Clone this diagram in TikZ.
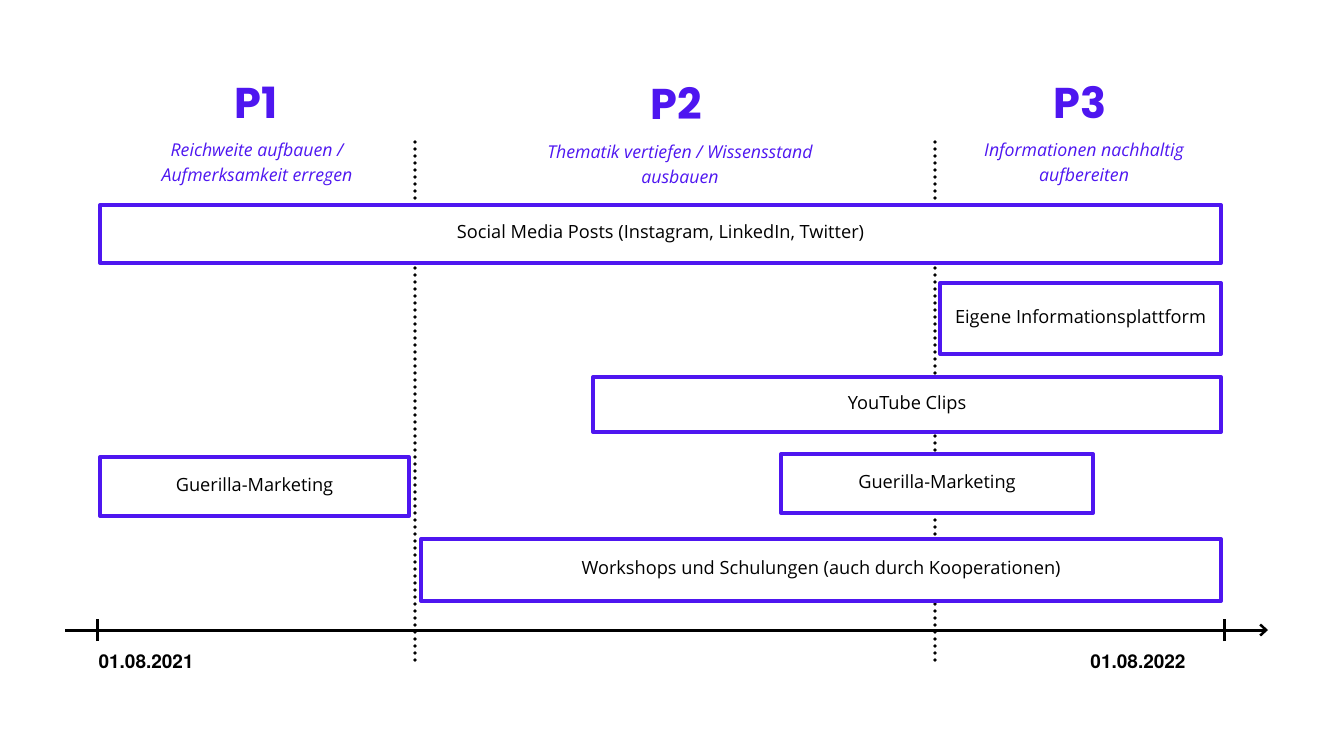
\documentclass[tikz,border=0pt]{standalone}
\usepackage{fontspec}
\setmainfont{Open Sans}
\newfontfamily\headfont{Poppins}
\newfontfamily\datefont{TeX Gyre Heros}
\usetikzlibrary{arrows.meta}
\definecolor{lila}{RGB}{78,22,240}
\tikzset{
	phase/.style={text=lila, font=\headfont\bfseries\fontsize{43}{46}\selectfont},
	ziel/.style={text=lila, align=center, font=\itshape\fontsize{17.7}{25}\selectfont},
	balken/.style={draw=lila, fill=white, line width=4pt, align=center, inner sep=0pt, font=\fontsize{18.2}{22}\selectfont},
	datum/.style={font=\datefont\bfseries\fontsize{19}{22}\selectfont},
	trenner/.style={line width=3.6pt, line cap=round, dash pattern=on 0pt off 7pt},
}
\begin{document}
\begin{tikzpicture}[x=1pt,y=-1pt,line join=round]
				\useasboundingbox (0,0) rectangle (1333,750);
				% Phasen
				\node[phase] (p1) at (256,103) {P1};
				\node[phase] (p2) at (676,103) {P2};
				\node[phase] (p3) at (1080,103) {P3};
				\node[ziel] (z1) at (257,164.5) {Reichweite aufbauen /\\Aufmerksamkeit erregen};
				\node[ziel] (z2) at (680,164.5) {Thematik vertiefen / Wissensstand\\ausbauen};
				\node[ziel] (z3) at (1084,164.5) {Informationen nachhaltig\\aufbereiten};
				% Trennlinien
				\coordinate (t1o) at (415,142);
				\coordinate (t1u) at (415,664);
				\coordinate (t2o) at (935,142);
				\coordinate (t2u) at (935,664);
				\draw[trenner] (t1o)--(t1u);
				\draw[trenner] (t2o)--(t2u);
				% Massnahmen
				\node[balken, minimum width=1121, minimum height=58] (social) at (660.5,234) {Social Media Posts (Instagram, LinkedIn, Twitter)};
				\node[balken, minimum width=281, minimum height=71] (platt) at (1080.5,318.5) {Eigene Informationsplattform};
				\node[balken, minimum width=628, minimum height=55] (yt) at (907,404.5) {YouTube Clips};
				\node[balken, minimum width=309, minimum height=59] (guer1) at (254.5,486.5) {Guerilla-Marketing};
				\node[balken, minimum width=312, minimum height=59] (guer2) at (937,483.5) {Guerilla-Marketing};
				\node[balken, minimum width=800, minimum height=62] (work) at (821,570) {Workshops und Schulungen (auch durch Kooperationen)};
				% Zeitachse
				\coordinate (a0) at (65,630);
				\coordinate (a1) at (1268,630);
				\coordinate (s0) at (97,630);
				\coordinate (s1) at (1224,630);
				\draw[line width=3pt, -{Straight Barb[length=6pt,width=11pt,line width=2.5pt]}] (a0)--(a1);
				\draw[line width=3pt] ([yshift=-11pt]s0)--([yshift=11pt]s0) ([yshift=-11pt]s1)--([yshift=11pt]s1);
				\node[datum, anchor=west] (d0) at (95,662) {01.08.2021};
				\node[datum] (d1) at (1138,662) {01.08.2022};
\end{tikzpicture}
\end{document}
